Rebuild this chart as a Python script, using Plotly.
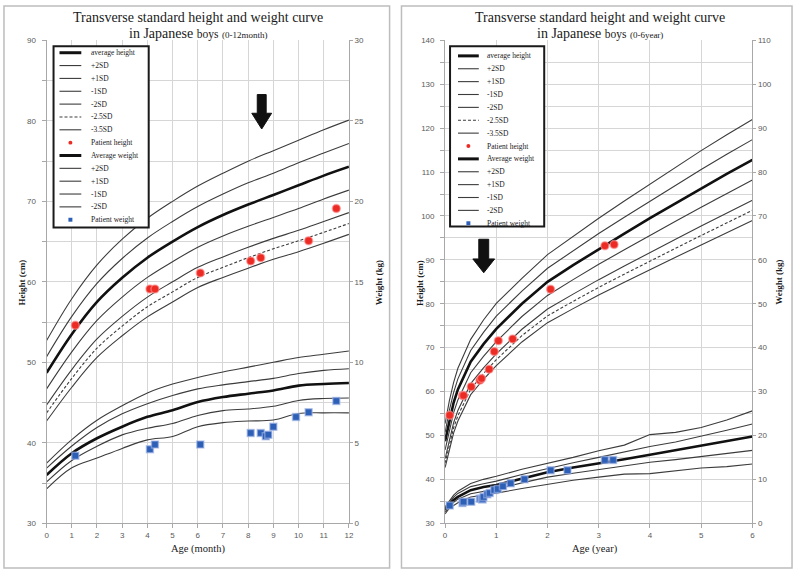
import plotly.graph_objects as go

W, H = 800, 575

# ---------------- data: 0-12 month panel ----------------
MONTHS = [0, 1, 2, 3, 4, 5, 6, 7, 8, 9, 10, 11, 12]
HM_P2 = [52.7, 57.9, 62.1, 65.3, 67.9, 70.0, 71.9, 73.5, 75.0, 76.3, 77.6, 78.9, 80.1]
HM_P1 = [50.7, 55.7, 59.8, 62.9, 65.45, 67.5, 69.35, 70.9, 72.3, 73.5, 74.8, 76.0, 77.2]
HM_AVG = [48.7, 53.5, 57.5, 60.5, 63.0, 65.0, 66.8, 68.3, 69.6, 70.8, 72.0, 73.2, 74.3]
HM_M1 = [46.7, 51.3, 55.2, 58.1, 60.55, 62.5, 64.3, 65.7, 66.9, 68.0, 69.1, 70.3, 71.4]
HM_M2 = [44.7, 49.1, 52.9, 55.7, 58.1, 60.0, 61.8, 63.1, 64.3, 65.4, 66.4, 67.5, 68.6]
HM_M25 = [43.7, 48.0, 51.75, 54.5, 56.9, 58.75, 60.55, 61.8, 63.0, 64.1, 65.1, 66.15, 67.25]
HM_M35 = [42.7, 46.9, 50.6, 53.3, 55.65, 57.5, 59.3, 60.55, 61.7, 62.8, 63.75, 64.8, 65.9]

WM_P2 = [3.74, 5.2, 6.4, 7.3, 8.1, 8.65, 9.06, 9.4, 9.7, 10.0, 10.3, 10.5, 10.7]
WM_P1 = [3.43, 4.8, 5.95, 6.8, 7.43, 7.94, 8.35, 8.6, 8.8, 9.0, 9.3, 9.5, 9.6]
WM_AVG = [3.0, 4.35, 5.28, 6.0, 6.61, 7.02, 7.53, 7.84, 8.05, 8.25, 8.55, 8.65, 8.71]
WM_M1 = [2.57, 3.9, 4.78, 5.49, 5.9, 6.2, 6.7, 7.0, 7.1, 7.27, 7.63, 7.75, 7.78]
WM_M2 = [2.14, 3.45, 4.05, 4.65, 5.18, 5.39, 6.0, 6.25, 6.35, 6.41, 6.82, 6.86, 6.86]

PT_HM_AGE = [1.14, 4.1, 4.3, 6.1, 8.1, 8.5, 10.4, 11.5]
PT_HM = [54.6, 59.1, 59.1, 61.1, 62.6, 63.0, 65.1, 69.1]
PT_WM_AGE = [1.14, 4.1, 4.3, 6.1, 8.1, 8.5, 8.7, 8.8, 9.0, 9.9, 10.4, 11.5]
PT_WM = [4.2, 4.6, 4.9, 4.9, 5.6, 5.6, 5.4, 5.5, 6.0, 6.6, 6.9, 7.6]

# ---------------- data: 0-6 year panel ----------------
YEARS = [0, 0.083, 0.167, 0.25, 0.5, 0.75, 1, 1.5, 2, 2.5, 3, 3.5, 4, 4.5, 5, 5.5, 6]
HY_P2 = [52.7, 57.9, 62.1, 65.3, 71.9, 76.3, 80.1, 85.8, 91.2, 95.4, 99.5, 103.4, 107.3, 111.1, 114.9, 118.5, 122.0]
HY_P1 = [50.7, 55.7, 59.8, 62.9, 69.35, 73.5, 77.2, 82.9, 88.1, 92.1, 96.0, 99.7, 103.4, 107.0, 110.6, 114.05, 117.4]
HY_AVG = [48.7, 53.5, 57.5, 60.5, 66.8, 70.8, 74.3, 80.0, 85.0, 88.8, 92.5, 96.0, 99.5, 102.9, 106.3, 109.6, 112.8]
HY_M1 = [46.7, 51.3, 55.2, 58.1, 64.3, 68.0, 71.4, 77.1, 81.9, 85.5, 89.0, 92.3, 95.6, 98.8, 102.0, 105.15, 108.2]
HY_M2 = [44.7, 49.1, 52.9, 55.7, 61.8, 65.4, 68.6, 74.2, 78.8, 82.2, 85.5, 88.6, 91.7, 94.7, 97.7, 100.7, 103.6]
HY_M25 = [43.7, 48.0, 51.75, 54.5, 60.55, 64.1, 67.25, 72.75, 77.25, 80.55, 83.75, 86.75, 89.75, 92.65, 95.55, 98.5, 101.3]
HY_M35 = [42.7, 46.9, 50.6, 53.3, 59.3, 62.8, 65.9, 71.3, 75.7, 78.9, 82.0, 84.9, 87.8, 90.6, 93.4, 96.25, 99.0]

WY_P2 = [3.74, 5.2, 6.4, 7.3, 9.06, 10.0, 10.7, 12.3, 13.6, 15.0, 16.5, 17.8, 20.2, 20.7, 21.8, 23.5, 25.6]
WY_P1 = [3.43, 4.8, 5.95, 6.8, 8.35, 9.0, 9.6, 11.1, 12.5, 13.8, 15.0, 16.2, 17.5, 18.5, 19.8, 21.2, 22.6]
WY_AVG = [3.0, 4.35, 5.28, 6.0, 7.53, 8.25, 8.71, 10.2, 11.6, 12.7, 13.6, 14.6, 15.6, 16.6, 17.6, 18.7, 19.75]
WY_M1 = [2.57, 3.9, 4.78, 5.49, 6.7, 7.27, 7.78, 9.2, 10.5, 11.4, 12.2, 13.0, 13.9, 14.5, 15.2, 15.9, 16.6]
WY_M2 = [2.14, 3.45, 4.05, 4.65, 6.0, 6.41, 6.86, 7.9, 8.9, 9.8, 10.5, 11.2, 11.3, 11.9, 12.6, 12.9, 13.5]

PT_HY_AGE = [0.09, 0.34, 0.36, 0.51, 0.68, 0.71, 0.86, 0.96, 1.04, 1.32, 2.06, 3.12, 3.30]
PT_HY = [54.6, 59.1, 59.1, 61.1, 62.6, 63.0, 65.1, 69.1, 71.6, 72.0, 83.3, 93.2, 93.5]
PT_WY_AGE = [0.09, 0.34, 0.36, 0.51, 0.68, 0.71, 0.725, 0.73, 0.75, 0.825, 0.87, 0.96,
             1.03, 1.13, 1.28, 1.55, 2.06, 2.39, 3.12, 3.28]
PT_WY = [4.04, 4.6, 4.9, 4.9, 5.6, 5.6, 5.4, 5.5, 6.0, 6.6, 6.9, 7.6,
         7.8, 8.4, 9.1, 10.0, 12.1, 12.1, 14.4, 14.4]

LEGEND_LABELS = ["average height", "+2SD", "+1SD", "-1SD", "-2SD", "-2.5SD", "-3.5SD",
                 "Patient height", "Average weight", "+2SD", "+1SD", "-1SD", "-2SD",
                 "Patient weight"]
LEGEND_KINDS = ["thick", "thin", "thin", "thin", "thin", "dash", "thin",
                "red", "thick", "thin", "thin", "thin", "thin", "blue"]

TITLE_1 = "Transverse standard height and weight curve"
SUB_L = "(0-12month)"
SUB_R = "(0-6year)"

# ---------------- styling ----------------
SERIF = "Liberation Serif, Times New Roman, serif"
SANS = "Liberation Sans, Arial, sans-serif"
LINE_STYLES = {
    "thick": dict(color="#111111", width=2.6),
    "thin": dict(color="#3c3c3c", width=1.1),
    "dash": dict(color="#3c3c3c", width=1.1, dash="3px,2px"),
}
RED = "#ec2b24"
BLUE = "#2c5fb5"


def px(x):
    return x / W


def py(y):
    return 1 - y / H


fig = go.Figure()


def add_curves(xs, curves, kinds, xa, ya, shape):
    for ys, k in zip(curves, kinds):
        st = dict(LINE_STYLES[k])
        st["shape"] = shape
        fig.add_trace(go.Scatter(x=xs, y=ys, mode="lines", xaxis=xa, yaxis=ya,
                                 line=st, showlegend=False, hoverinfo="skip"))


H_KINDS = ["thin", "thin", "thick", "thin", "thin", "dash", "thin"]
W_KINDS = ["thin", "thin", "thick", "thin", "thin"]

add_curves(MONTHS, [HM_P2, HM_P1, HM_AVG, HM_M1, HM_M2, HM_M25, HM_M35], H_KINDS, "x", "y", "spline")
add_curves(MONTHS, [WM_P2, WM_P1, WM_AVG, WM_M1, WM_M2], W_KINDS, "x", "y2", "spline")
add_curves(YEARS, [HY_P2, HY_P1, HY_AVG, HY_M1, HY_M2, HY_M25, HY_M35], H_KINDS, "x2", "y3", "linear")
add_curves(YEARS, [WY_P2, WY_P1, WY_AVG, WY_M1, WY_M2], W_KINDS, "x2", "y4", "linear")


def add_points(xs, ys, xa, ya, color, symbol, size, halo):
    fig.add_trace(go.Scatter(
        x=xs, y=ys, mode="markers", xaxis=xa, yaxis=ya, showlegend=False, hoverinfo="skip",
        marker=dict(color=color, symbol=symbol, size=size,
                    line=dict(color=halo, width=1.5))))


add_points(PT_HM_AGE, PT_HM, "x", "y", RED, "circle", 8, "rgba(255,150,150,0.6)")
add_points(PT_WM_AGE, PT_WM, "x", "y2", BLUE, "square", 7, "rgba(160,180,230,0.6)")
add_points(PT_HY_AGE, PT_HY, "x2", "y3", RED, "circle", 8, "rgba(255,150,150,0.6)")
add_points(PT_WY_AGE, PT_WY, "x2", "y4", BLUE, "square", 7, "rgba(160,180,230,0.6)")

# ---------------- axes ----------------
TICKFONT = dict(family=SANS, size=8, color="#5a5a5a")
AX = dict(showline=True, linecolor="#a8a8a8", linewidth=1, ticks="outside", ticklen=4,
          tickcolor="#a8a8a8", zeroline=False, tickfont=TICKFONT, fixedrange=True)
GRID = "#d6d6d6"
YDOM = [py(527.5), py(37)]
XDOM_L = [px(45), px(350)]
XDOM_R = [px(447), px(757)]

fig.update_layout(
    xaxis=dict(AX, domain=XDOM_L, range=[0, 12], dtick=1, anchor="y",
               showgrid=True, gridcolor=GRID),
    yaxis=dict(AX, domain=YDOM, range=[30, 90], dtick=10, anchor="x",
               showgrid=True, gridcolor=GRID, ticklabelstandoff=4,
               minor=dict(dtick=5, showgrid=True, gridcolor=GRID, ticks="outside",
                          ticklen=4, tickcolor="#a8a8a8")),
    yaxis2=dict(AX, range=[0, 30], dtick=5, overlaying="y", anchor="x", side="right",
                showgrid=False, ticklen=3),
    xaxis2=dict(AX, domain=XDOM_R, range=[0, 6], dtick=1, anchor="y3",
                showgrid=True, gridcolor=GRID),
    yaxis3=dict(AX, domain=YDOM, range=[30, 140], dtick=10, anchor="x2",
                showgrid=True, gridcolor=GRID, ticklabelstandoff=4,
                minor=dict(dtick=5, showgrid=True, gridcolor=GRID, ticks="outside",
                           ticklen=4, tickcolor="#a8a8a8")),
    yaxis4=dict(AX, range=[0, 110], dtick=10, overlaying="y3", anchor="x2", side="right",
                showgrid=False, ticklen=3),
)

# ---------------- annotations & shapes ----------------
ann = []
shapes = []


def text(x, y, t, size, family=SERIF, angle=0, xanchor="center", color="#1a1a1a"):
    ann.append(dict(x=px(x), y=py(y), xref="paper", yref="paper", text=t, showarrow=False,
                    xanchor=xanchor, yanchor="middle", textangle=angle,
                    font=dict(family=family, size=size, color=color)))


def title(cx, sub):
    text(cx, 14, TITLE_1, 14)
    text(cx, 30, "in Japanese <span style='font-size:11.5px'>boys</span> "
                 "<span style='font-size:9px'>" + sub + "</span>", 14)


title(198, SUB_L)
title(603, SUB_R)

text(20, 283, "<b>Height (cm)</b>", 9, angle=-90)
text(380, 283, "<b>Weight (kg)</b>", 9, angle=-90)
text(421, 283, "<b>Height (cm)</b>", 9, angle=-90)
text(783, 283, "<b>Weight (kg)</b>", 9, angle=-90)
text(198, 554, "Age (month)", 10.5)
text(598, 554, "Age (year)", 10.5)

# panel frames
for x0, x1 in [(2, 391), (403, 797)]:
    shapes.append(dict(type="rect", xref="paper", yref="paper", x0=px(x0), x1=px(x1),
                       y0=py(573), y1=py(2), line=dict(color="#bdbdbd", width=1.5)))


def legend(x0, y0, x1, y1, first, step, lx0, lx1, tx):
    shapes.append(dict(type="rect", xref="paper", yref="paper", x0=px(x0), x1=px(x1),
                       y0=py(y1), y1=py(y0), fillcolor="white",
                       line=dict(color="#1a1a1a", width=2)))
    for i, (lab, kind) in enumerate(zip(LEGEND_LABELS, LEGEND_KINDS)):
        yy = first + i * step
        if kind in LINE_STYLES:
            st = LINE_STYLES[kind]
            shapes.append(dict(type="line", xref="paper", yref="paper",
                               x0=px(lx0), x1=px(lx1), y0=py(yy), y1=py(yy),
                               line=dict(color=st["color"], width=st["width"] + (0.4 if kind == "thick" else 0),
                                         dash=st.get("dash", "solid"))))
        else:
            cx = (lx0 + lx1) / 2
            r = 2
            shapes.append(dict(type="circle" if kind == "red" else "rect",
                               xref="paper", yref="paper",
                               x0=px(cx - r), x1=px(cx + r), y0=py(yy + r), y1=py(yy - r),
                               fillcolor=RED if kind == "red" else BLUE, line=dict(width=0)))
        text(tx, yy, lab, 7.5, xanchor="left", color="#222222")


legend(52, 43, 148, 227, 49.5, 13.05, 58, 80, 88)
legend(452, 43, 547, 226, 52.7, 13.08, 460, 481, 487)


def arrow(cx, ytop, yneck, ytip, sw, hw):
    pts = [(cx - sw / 2, ytop), (cx + sw / 2, ytop), (cx + sw / 2, yneck), (cx + hw / 2, yneck),
           (cx, ytip), (cx - hw / 2, yneck), (cx - sw / 2, yneck)]
    path = "M " + " L ".join(f"{px(a):.5f},{py(b):.5f}" for a, b in pts) + " Z"
    shapes.append(dict(type="path", xref="paper", yref="paper", path=path,
                       fillcolor="#111111", line=dict(color="#111111", width=1)))


arrow(262, 92, 111, 127, 9, 20)
arrow(486, 239, 259, 273, 10, 22)

fig.update_layout(
    width=W, height=H, autosize=False,
    margin=dict(l=0, r=0, t=0, b=0),
    paper_bgcolor="white", plot_bgcolor="white",
    showlegend=False,
    annotations=ann, shapes=shapes,
)

fig.write_html("out.html", config={"displayModeBar": False},
               post_script="document.body.style.margin='0';document.body.style.overflow='hidden';")
